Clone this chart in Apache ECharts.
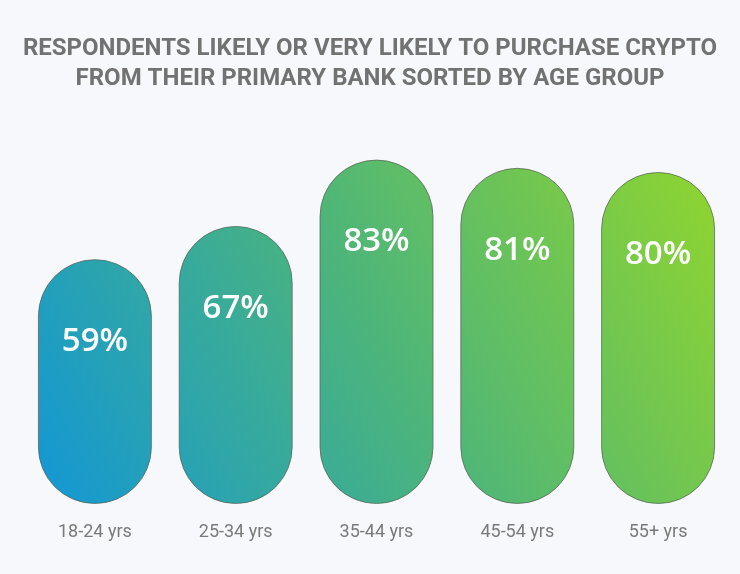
<!DOCTYPE html>
<html><head><meta charset="utf-8">
<script src="https://cdn.jsdelivr.net/npm/echarts@6/dist/echarts.min.js"></script>
<style>html,body{margin:0;padding:0;background:#f7f8fb;}#c{width:740px;height:574px;}</style>
</head><body><div id="c"></div>
<script>
var categories = ['18-24 yrs','25-34 yrs','35-44 yrs','45-54 yrs','55+ yrs'];
var values = [59, 67, 83, 81, 80];
var titleLines = ['RESPONDENTS LIKELY OR VERY LIKELY TO PURCHASE CRYPTO','FROM THEIR PRIMARY BANK SORTED BY AGE GROUP'];

var chart = echarts.init(document.getElementById('c'));
var grad = new echarts.graphic.LinearGradient(38, 504, 715, 160, [
  {offset:0, color:'#1297d6'},
  {offset:0.5, color:'#4db57a'},
  {offset:1, color:'#90d52e'}
], true);
chart.setOption({
  backgroundColor:'#f7f8fb',
  title:{
    text: titleLines.join('\n'), left:'center', top:29,
    textStyle:{fontFamily:'Roboto', fontWeight:'bold', fontSize:24, color:'#727272', lineHeight:30}
  },
  grid:{left:24.5, right:11.5, top:89, bottom:70},
  xAxis:{type:'category', data:categories,
    axisLine:{show:false}, axisTick:{show:false},
    axisLabel:{color:'#7a7a7a', fontSize:18, fontFamily:'Roboto', margin:19}},
  yAxis:{type:'value', min:0, max:100, show:false, splitLine:{show:false}},
  series:[{type:'bar', data:values, barWidth:114,
    itemStyle:{color:grad, borderRadius:57, borderColor:'rgba(90,100,90,0.75)', borderWidth:1},
    label:{show:true, position:'insideTop', distance:66, formatter:'{c}%', color:'#ffffff', fontSize:33, fontWeight:600, fontFamily:'Open Sans'}
  }]
});
</script></body></html>
